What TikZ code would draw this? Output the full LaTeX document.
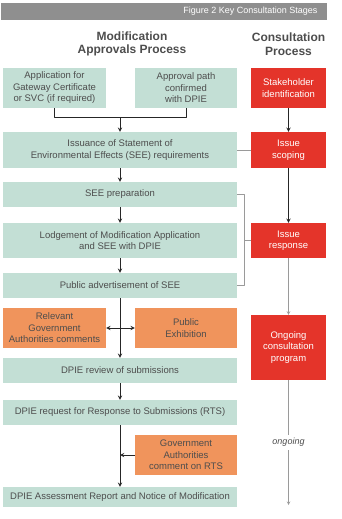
\documentclass[tikz,border=0pt]{standalone}
\usepackage{fontspec}
\setmainfont{Liberation Sans}
\definecolor{stagegreen}{HTML}{C3DFD5}
\definecolor{stagered}{HTML}{E4342A}
\definecolor{stageorange}{HTML}{F0945C}
\definecolor{titlegrey}{HTML}{8F8F8F}
\definecolor{headgrey}{HTML}{4D4D4D}
\definecolor{linkgrey}{HTML}{9A9A9A}
\begin{document}
\begin{tikzpicture}[x=1pt, y=-1pt, line join=round, >=stealth,
	font=\fontsize{9.5}{11.5}\selectfont,
	greenbox/.style={fill=stagegreen, text=headgrey, align=center, inner sep=0pt},
	redbox/.style={fill=stagered, text=white, align=center, inner sep=0pt},
	orangebox/.style={fill=stageorange, text=headgrey, align=center, inner sep=0pt},
	head/.style={text=headgrey, font=\fontsize{12}{13.5}\selectfont\bfseries, align=center},
	flow/.style={->, draw=black!85, line width=0.9pt},
	link/.style={draw=linkgrey, line width=0.6pt}]
	\useasboundingbox (0,0) rectangle (342,519);
	\path
	(54.5,117) coordinate (L)
	(186,117) coordinate (R)
	(120,117) coordinate (M)
	(244,194.5) coordinate (Btop)
	(244,240.5) coordinate (Bmid)
	(244,285.5) coordinate (Bbot)
	(120,328) coordinate (X)
	(120,455) coordinate (G)
	(288.5,505) coordinate (E)
	;
	\node[fill=titlegrey, minimum width=326pt, minimum height=17pt, inner sep=0pt] (bar) at (164,11.5) {};
	\node[text=white, anchor=east, font=\fontsize{9}{10}\selectfont] (title) at (321,11.5) {Figure 2 Key Consultation Stages};
	\node[head] (hmod) at (132,44) {Modification\\Approvals Process};
	\node[head] (hcon) at (288.5,44) {Consultation\\Process};
	\node[greenbox, minimum width=103pt, minimum height=40pt] (app) at (54.5,88) {Application for\\Gateway Certificate\\or SVC (if required)};
	\node[greenbox, minimum width=102pt, minimum height=40pt] (path) at (186,88) {Approval path\\confirmed\\with DPIE};
	\node[redbox, minimum width=75pt, minimum height=40pt] (stake) at (288.5,88) {Stakeholder\\identification};
	\node[greenbox, minimum width=234pt, minimum height=36pt] (issue) at (120,150) {Issuance of Statement of\\Environmental Effects (SEE) requirements};
	\node[redbox, minimum width=75pt, minimum height=36pt] (scoping) at (288.5,150) {Issue\\scoping};
	\node[greenbox, minimum width=234pt, minimum height=25pt] (prep) at (120,194.5) {SEE preparation};
	\node[greenbox, minimum width=234pt, minimum height=35pt] (lodge) at (120,240.5) {Lodgement of Modification Application\\and SEE with DPIE};
	\node[redbox, minimum width=75pt, minimum height=35pt] (response) at (288.5,240.5) {Issue\\response};
	\node[greenbox, minimum width=234pt, minimum height=25pt] (advert) at (120,285.5) {Public advertisement of SEE};
	\node[orangebox, minimum width=103pt, minimum height=40pt] (rgac) at (54.5,328) {Relevant\\Government\\Authorities comments};
	\node[orangebox, minimum width=102pt, minimum height=40pt] (exhib) at (186,328) {Public\\Exhibition};
	\node[redbox, minimum width=75pt, minimum height=65pt] (ongoing) at (288.5,347.5) {Ongoing\\consultation\\program};
	\node[greenbox, minimum width=234pt, minimum height=25pt] (review) at (120,370.5) {DPIE review of submissions};
	\node[greenbox, minimum width=234pt, minimum height=25pt] (rts) at (120,412.5) {DPIE request for Response to Submissions (RTS)};
	\node[orangebox, minimum width=102pt, minimum height=40pt] (govrts) at (186,455) {Government\\Authorities\\comment on RTS};
	\node[greenbox, minimum width=234pt, minimum height=20pt] (report) at (120,497) {DPIE Assessment Report and Notice of Modification};
	\draw[flow, -] (app.south) |- (L) -- (R) -| (path.south);
	\draw[flow] (M) -- (issue.north);
	\draw[flow] (issue) -- (prep);
	\draw[flow] (prep) -- (lodge);
	\draw[flow] (lodge) -- (advert);
	\draw[flow] (advert) -- (review);
	\draw[flow, <->] (rgac) -- (exhib);
	\draw[flow] (review) -- (rts);
	\draw[flow] (rts) -- (report);
	\draw[flow] (govrts) -- (G);
	\draw[flow] (stake) -- (scoping);
	\draw[flow] (scoping) -- (response);
	\draw[link, ->] (response) -- (ongoing);
	\draw[link, ->] (ongoing) -- (E) node[midway, fill=white, text=headgrey, font=\fontsize{9}{10}\selectfont\itshape] (ongo) {ongoing};
	\draw[link] (issue) -- (scoping);
	\draw[link] (prep.east) -- (Btop) -- (Bbot) -- (advert.east);
	\draw[link] (Bmid) -- (response);
\end{tikzpicture}
\end{document}
